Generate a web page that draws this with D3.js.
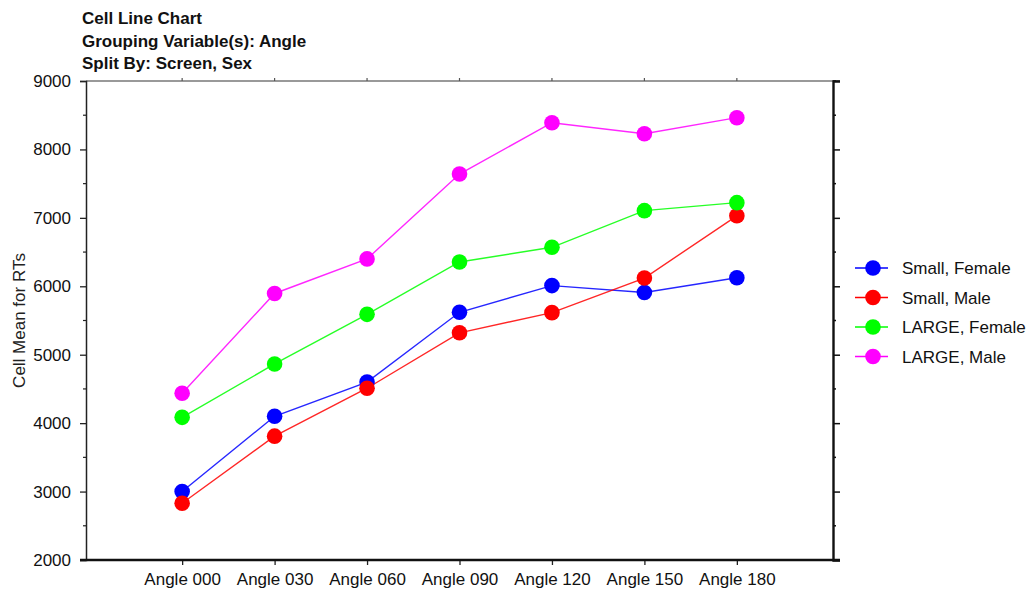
<!DOCTYPE html>
<html>
<head>
<meta charset="utf-8">
<script src="https://cdn.jsdelivr.net/npm/d3@7"></script>
<style>
  html, body { margin: 0; padding: 0; background: #fff; }
  svg { display: block; font-family: "Liberation Sans", Arial, sans-serif; }
</style>
</head>
<body>
<svg id="chart" width="1030" height="590"></svg>
<script>
// Cell means of reaction time by angle, split by screen size and sex
const angles = ["Angle 000", "Angle 030", "Angle 060", "Angle 090", "Angle 120", "Angle 150", "Angle 180"];
const seriesNames = ["Small, Female", "Small, Male", "LARGE, Female", "LARGE, Male"];
const smallFemale = [3000, 4100, 4600, 5620, 6010, 5910, 6125];
const smallMale   = [2830, 3810, 4510, 5320, 5615, 6120, 7030];
const largeFemale = [4085, 4865, 5590, 6355, 6570, 7105, 7222];
const largeMale   = [4436, 5895, 6400, 7640, 8390, 8230, 8464];
const seriesColors = ["#0000ff", "#ff0000", "#00ff00", "#ff00ff"];
const yMajorTicks = [2000, 3000, 4000, 5000, 6000, 7000, 8000, 9000];
const yMinorTicks = [2500, 3500, 4500, 5500, 6500, 7500, 8500];
const titleLines = ["Cell Line Chart", "Grouping Variable(s): Angle", "Split By: Screen, Sex"];
const yAxisTitle = "Cell Mean for RTs";

const seriesValues = [smallFemale, smallMale, largeFemale, largeMale];

const svg = d3.select("#chart");
const plot = { left: 86, right: 833, top: 81, bottom: 560 };
const fontSize = 17;

const x = d3.scalePoint().domain(angles).range([plot.left, plot.right]).padding(1.04);
const y = d3.scaleLinear().domain([2000, 9000]).range([plot.bottom, plot.top]);

// Frame: top (grey) edge
svg.append("line")
  .attr("x1", plot.left).attr("x2", plot.right + 7)
  .attr("y1", plot.top).attr("y2", plot.top)
  .attr("stroke", "#777").attr("stroke-width", 1.6);

// Top category ticks
svg.append("g").selectAll("line").data(angles).join("line")
  .attr("x1", d => x(d)).attr("x2", d => x(d))
  .attr("y1", plot.top).attr("y2", plot.top - 3)
  .attr("stroke", "#555").attr("stroke-width", 1.2);

// Left axis
const gLeft = svg.append("g").attr("transform", `translate(${plot.left},0)`)
  .call(d3.axisLeft(y).tickValues(yMajorTicks).tickSize(6).tickPadding(9).tickFormat(d3.format("d")));
gLeft.select(".domain").attr("stroke", "#222").attr("stroke-width", 1.5);
gLeft.selectAll(".tick line").attr("stroke", "#222").attr("stroke-width", 1.3);
gLeft.selectAll(".tick text").attr("font-size", fontSize).attr("fill", "#111")
  .attr("font-family", "Liberation Sans, Arial, sans-serif");
gLeft.append("g").selectAll("line").data(yMinorTicks).join("line")
  .attr("x1", 0).attr("x2", -3).attr("y1", d => y(d)).attr("y2", d => y(d))
  .attr("stroke", "#222").attr("stroke-width", 1.2);

// Right axis
const gRight = svg.append("g").attr("transform", `translate(${plot.right},0)`)
  .call(d3.axisRight(y).tickValues(yMajorTicks.slice(0, -1)).tickSize(7).tickFormat(""));
gRight.select(".domain").attr("stroke", "#111").attr("stroke-width", 2.4);
gRight.selectAll(".tick line").attr("stroke", "#111").attr("stroke-width", 1.5);
gRight.append("g").selectAll("line").data(yMinorTicks.concat([9000])).join("line")
  .attr("x1", 0).attr("x2", 3).attr("y1", d => y(d)).attr("y2", d => y(d))
  .attr("stroke", "#111").attr("stroke-width", 1.5);

// Bottom axis
const gBottom = svg.append("g").attr("transform", `translate(0,${plot.bottom})`)
  .call(d3.axisBottom(x).tickSize(5).tickPadding(8));
gBottom.select(".domain").remove();
gBottom.append("line")
  .attr("x1", plot.left - 6).attr("x2", plot.right + 7)
  .attr("stroke", "#111").attr("stroke-width", 2.4);
gBottom.selectAll(".tick line").attr("stroke", "#222").attr("stroke-width", 1.3);
gBottom.selectAll(".tick text").attr("font-size", fontSize).attr("fill", "#111")
  .attr("font-family", "Liberation Sans, Arial, sans-serif");

// Title block
svg.append("g").selectAll("text").data(titleLines).join("text")
  .attr("x", 82).attr("y", (d, i) => 24 + i * 22.5)
  .attr("font-size", fontSize).attr("font-weight", "bold").attr("fill", "#111")
  .text(d => d);

// Y axis title
svg.append("text")
  .attr("transform", `translate(25,${(plot.top + plot.bottom) / 2}) rotate(-90)`)
  .attr("text-anchor", "middle")
  .attr("font-size", fontSize).attr("fill", "#222")
  .text(yAxisTitle);

// Series lines and markers
const line = d3.line().x((d, i) => x(angles[i])).y(d => y(d));
const gSeries = svg.append("g");
seriesValues.forEach((vals, s) => {
  gSeries.append("path")
    .attr("d", line(vals))
    .attr("fill", "none")
    .attr("stroke", seriesColors[s])
    .attr("stroke-width", 1.4)
    .attr("stroke-opacity", 0.85);
});
seriesValues.forEach((vals, s) => {
  gSeries.append("g").selectAll("circle").data(vals).join("circle")
    .attr("cx", (d, i) => x(angles[i]))
    .attr("cy", d => y(d))
    .attr("r", 7.8)
    .attr("fill", seriesColors[s]);
});

// Legend
const legend = svg.append("g").attr("transform", "translate(855,268)");
const rows = legend.selectAll("g").data(seriesNames).join("g")
  .attr("transform", (d, i) => `translate(0,${i * 29.5})`);
rows.append("line")
  .attr("x1", 0).attr("x2", 33)
  .attr("stroke", (d, i) => seriesColors[i]).attr("stroke-width", 1.4);
rows.append("circle")
  .attr("cx", 18).attr("r", 7.8)
  .attr("fill", (d, i) => seriesColors[i]);
rows.append("text")
  .attr("x", 47).attr("y", 6)
  .attr("font-size", fontSize).attr("fill", "#111")
  .text(d => d);
</script>
</body>
</html>
